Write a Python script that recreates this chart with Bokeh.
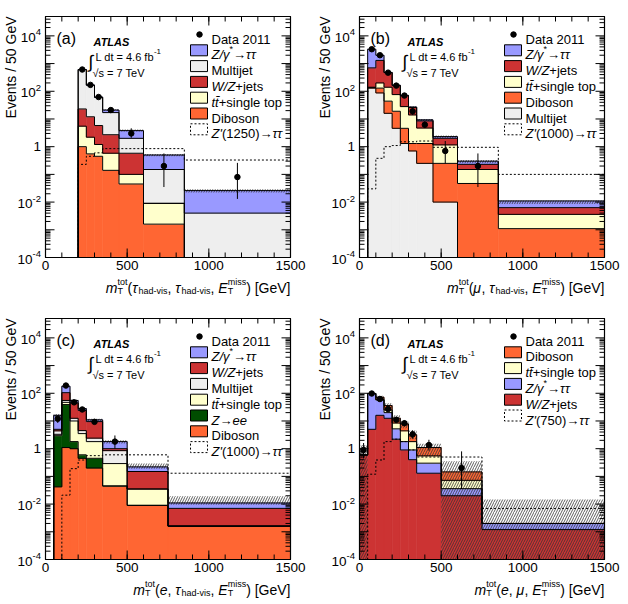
import math
import numpy as np
from bokeh.plotting import figure
from bokeh.models import Label, Range1d
from bokeh.layouts import gridplot
from bokeh.embed import file_html
from bokeh.resources import INLINE

# ---------------- data (events / 50 GeV) ----------------
# (a) tau_had tau_had
a_edges = [200, 250, 300, 350, 450, 600, 850, 1500]
a_diboson = [1.0, 0.55, 0.45, 0.14, 0.045, 0.0016, 0.0]
a_ttbar = [4.5, 1.65, 0.75, 0.44, 0.055, 0.0074, 0.0]
a_wzjets = [17.5, 9.8, 4.6, 2.12, 0.48, 0.0, 0.0]
a_multijet = [582, 153, 54, 14.3, 1.42, 0.141, 0.004]
a_ztautau = [5, 3, 2, 4, 1.8, 0.35, 0.022]
a_zprime = [0.23, 0.45, 0.6, 0.85, 0.85, 0.85, 0.33]
a_data = [610, 170, 62, 21, 3.0, 0.2, 0.08]
a_data_lo = [585, 158, 55, 18, 2.1, 0.035, 0.013]
a_data_hi = [635, 182, 69, 24, 4.6, 0.57, 0.26]
a_band_lo = [590, 160, 58, 19.5, 3.5, 0.45, 0.022]
a_band_hi = [630, 176, 66, 22.5, 4.2, 0.55, 0.029]

# (b) mu tau_had
b_edges = [50, 100, 150, 200, 250, 300, 350, 450, 600, 850, 1500]
b_multijet = [130, 87, 16, 4.6, 1.3, 0.7, 0.25, 0.01, 0.0, 0.0]
b_diboson = [5, 43, 28, 14.4, 3.3, 0.6, 1.05, 0.24, 0.047, 0.0011]
b_ttbar = [5, 70, 96, 57, 23.4, 12.7, 3.4, 0.91, 0.103, 0.0025]
b_wzjets = [560, 1100, 330, 84, 41, 12, 3.8, 0.85, 0.08, 0.0027]
b_ztautau = [2600, 700, 10, 5, 2, 1, 0.8, 0.3, 0.07, 0.0047]
b_zprime = [0.03, 0.38, 1.0, 1.1, 1.5, 1.5, 1.6, 0.95, 0.95, 0.1]
b_data = [3300, 2000, 470, 160, 70, 19, 6.2, 0.7, 0.2]
b_data_lo = [3200, 1920, 440, 148, 62, 14, 4.7, 0.25, 0.035]
b_data_hi = [3400, 2080, 500, 172, 78, 25, 8.3, 1.6, 0.57]
b_band_lo = [3150, 1900, 450, 155, 67, 25, 8.5, 2.05, 0.25, 0.0085]
b_band_hi = [3450, 2100, 500, 175, 75, 29, 10, 2.55, 0.33, 0.0115]

# (c) e tau_had
c_edges = [50, 100, 150, 200, 250, 350, 500, 750, 1500]
c_diboson = [0.042, 1.1, 1.0, 0.45, 0.2, 0.045, 0.009, 0.0016]
c_zee = [2.9, 38, 0.8, 0.15, 0.25, 0.0, 0.0, 0.0]
c_ttbar = [0.36, 7.9, 8.2, 2.9, 1.35, 0.245, 0.026, 0.0]
c_multijet = [1.1, 8, 2.5, 1.0, 0.6, 0.56, 0.0, 0.0]
c_wzjets = [0.6, 50, 32.5, 19.5, 7.1, 0.15, 0.115, 0.0054]
c_ztautau = [11, 75, 10, 4, 1.5, 0.8, 0.07, 0.004]
c_zprime = [0.0, 0.021, 0.19, 0.39, 0.56, 0.6, 0.6, 0.13]
c_data = [12, 190, 47, 26, 9.3, 1.8]
c_data_lo = [8.5, 175, 41, 22, 7.7, 1.0]
c_data_hi = [16, 205, 54, 30, 11, 3.0]
c_band_lo = [14, 170, 51, 26, 10, 1.55, 0.19, 0.0095]
c_band_hi = [18, 190, 59, 30, 12, 2.0, 0.29, 0.019]

# (d) e mu
d_edges = [0, 50, 100, 150, 200, 250, 300, 350, 500, 750, 1500]
d_wzjets = [0.59, 5, 16, 12.5, 2.2, 0.9, 0.4, 0.13, 0.02, 0.0012]
d_ztautau = [0.0, 93, 41, 7.5, 3.0, 0.9, 0.5, 0.17, 0.016, 0.0008]
d_ttbar = [0.0, 0.0, 3, 5, 3.2, 2.6, 0.9, 0.25, 0.036, 0.0]
d_diboson = [0.0, 0.0, 12, 11, 4.2, 3.4, 1.4, 0.55, 0.073, 0.0]
d_zprime = [0.0, 0.12, 0.39, 1.8, 2.2, 1.8, 0.9, 0.5, 0.5, 0.007]
d_data = [0.9, 98, 62, 27, 11, 8.3, 3.3, 1.35, 0.2]
d_data_lo = [0.45, 92, 57, 23, 9, 6.5, 2.3, 0.85, 0.035]
d_data_hi = [1.6, 104, 68, 32, 14, 10.5, 4.6, 2.1, 0.8]
d_band_lo = [0.0, 90, 60, 28, 9, 5.5, 2.2, 0.55, 0.0, 0.0]
d_band_hi = [1.35, 106, 82, 44, 16, 10, 4.5, 1.5, 0.35, 0.0145]

# axis ticks
x_major = [0, 500, 1000, 1500]
x_minor = list(range(100, 1500, 100))
y_major_exp = [-4, -3, -2, -1, 0, 1, 2, 3, 4]
y_label_exp = [-4, -2, 0, 2, 4]

# ---------------- style / geometry ----------------
FONT = "Liberation Sans"
C_ZTT = "#9999ff"
C_MJ = "#eeeeee"
C_WZ = "#cc3333"
C_TT = "#ffffcc"
C_DB = "#ff6633"
C_ZEE = "#004d00"
YMIN, YMAX = 1e-4, 5e4
XMIN, XMAX = 0.0, 1500.0
PW, PH = 314, 302                     # panel size
FL, FT, FR, FB = 45, 16, 290, 257     # drawn frame box inside the panel (pixels)
LOGSPAN = math.log10(YMAX) - math.log10(YMIN)
LPP = LOGSPAN / (FB - FT)             # decades per pixel
XPP = (XMAX - XMIN) / (FR - FL)       # GeV per pixel

W = {' ': .278, '(': .333, ')': .333, ',': .278, '-': .333, '[': .278, ']': .278, '/': .278,
     '.': .278, '=': .584, '+': .584, "'": .191, '*': .389, '\u0304': 0.0,
     'a': .556, 'b': .556, 'c': .5, 'd': .556, 'e': .556, 'f': .278, 'g': .556, 'h': .556,
     'i': .222, 'j': .222, 'k': .5, 'l': .222, 'm': .833, 'n': .556, 'o': .556, 'p': .556,
     'r': .333, 's': .5, 't': .278, 'u': .556, 'v': .5, 'w': .722, 'x': .5, 'y': .5, 'z': .5,
     'A': .667, 'D': .722, 'E': .667, 'G': .778, 'L': .556, 'M': .833, 'S': .667, 'T': .611,
     'V': .667, 'W': .944, 'Z': .611, 'τ': .45, 'μ': .577, 'γ': .5, '→': 1.0}


def tw(s, size):
    return sum(W.get(ch, 0.556) for ch in s) * size


STY = {"": "normal", "i": "italic", "b": "bold", "bi": "bold italic"}


def add_text(p, t, X, Y, size, style="normal", align="left", baseline="alphabetic", angle=0.0):
    # X, Y: panel pixels (Y downward); frame spans the whole panel
    p.add_layout(Label(x=X, y=PH - Y, x_units="screen", y_units="screen", text=t,
                       text_font=FONT, text_font_size=f"{size}px", text_font_style=style,
                       text_align=align, text_baseline=baseline, angle=angle,
                       text_color="black"))


def pw(pc, size, ss):
    t, role, st = pc
    if role == "n":
        return tw(t, size)
    if role in ("sub", "sup"):
        return tw(t, ss)
    a, b = t.split("|")
    return max(tw(a, ss), tw(b, ss))


def rich(p, pieces, X, Y, size, ss, align="left"):
    total = sum(pw(pc, size, ss) for pc in pieces)
    x = X - total if align == "right" else X
    for pc in pieces:
        t, role, st = pc
        s = STY[st]
        if role == "n":
            add_text(p, t, x, Y, size, s)
        elif role == "sub":
            add_text(p, t, x, Y + 0.28 * size, ss, s)
        elif role == "sup":
            add_text(p, t, x, Y - 0.42 * size, ss, s)
        else:
            a, b = t.split("|")
            add_text(p, a, x, Y + 0.28 * size, ss, s)
            add_text(p, b, x, Y - 0.42 * size, ss, s)
        x += pw(pc, size, ss)


def to_data(X, Y):
    xd = XMIN + (X - FL) * XPP
    ly = math.log10(YMIN) + (FB - Y) * LPP
    return xd, 10 ** ly


def steps(e, v):
    xs, ys = [e[0]], [YMIN]
    for i in range(len(v)):
        xs += [e[i], e[i + 1]]
        ys += [max(v[i], YMIN)] * 2
    xs.append(e[-1])
    ys.append(YMIN)
    return xs, ys


def make_panel():
    x0 = XMIN - FL * XPP
    x1 = XMAX + (PW - FR) * XPP
    y0 = 10 ** (math.log10(YMIN) - (PH - FB) * LPP)
    y1 = 10 ** (math.log10(YMAX) + FT * LPP)
    p = figure(width=PW, height=PH, x_range=Range1d(x0, x1), y_range=Range1d(y0, y1),
               y_axis_type="log", x_axis_location=None, y_axis_location=None,
               output_backend="svg", toolbar_location=None,
               min_border_left=0, min_border_right=0, min_border_top=0, min_border_bottom=0)
    p.grid.visible = False
    p.outline_line_color = None
    p.background_fill_color = "white"
    p.border_fill_color = "white"
    return p


def draw_axes(p):
    # frame
    p.quad(left=[XMIN], right=[XMAX], bottom=[YMIN], top=[YMAX], fill_alpha=0,
           line_color="black", line_width=1.2)
    ymaj = [10.0 ** k for k in y_major_exp]
    ymin_t = [m * 10.0 ** k for k in y_major_exp for m in range(2, 10)
              if m * 10.0 ** k <= YMAX]
    for ticks, ln in ((x_major, 9), (x_minor, 5)):
        n = len(ticks)
        f = 10 ** (ln * LPP)
        p.segment(x0=ticks, y0=[YMIN] * n, x1=ticks, y1=[YMIN * f] * n, color="black")
        p.segment(x0=ticks, y0=[YMAX] * n, x1=ticks, y1=[YMAX / f] * n, color="black")
    for ticks, ln in ((ymaj, 9), (ymin_t, 5)):
        n = len(ticks)
        d = ln * XPP
        p.segment(x0=[XMIN] * n, y0=ticks, x1=[XMIN + d] * n, y1=ticks, color="black")
        p.segment(x0=[XMAX] * n, y0=ticks, x1=[XMAX - d] * n, y1=ticks, color="black")
    for t in x_major:
        p.add_layout(Label(x=t, y=YMIN, y_offset=-3, text=str(t), text_font=FONT,
                           text_font_size="13.5px", text_align="center",
                           text_baseline="top", text_color="black"))
    for k in y_label_exp:
        if k == 0:
            p.add_layout(Label(x=XMIN, y=1.0, x_offset=-4.5, text="1", text_font=FONT,
                               text_font_size="13.5px", text_align="right",
                               text_baseline="middle", text_color="black"))
            continue
        sup = str(k)
        wsup = tw(sup, 9.5)
        p.add_layout(Label(x=XMIN, y=10.0 ** k, x_offset=-4.5 - wsup, y_offset=-1.5,
                           text="10", text_font=FONT, text_font_size="13.5px",
                           text_align="right", text_baseline="middle", text_color="black"))
        p.add_layout(Label(x=XMIN, y=10.0 ** k, x_offset=-4.5 - wsup, y_offset=3.5,
                           text=sup, text_font=FONT, text_font_size="9.5px",
                           text_align="left", text_baseline="middle", text_color="black"))


def draw_hist(p, edges, comps, zprime, data, dlo, dhi, blo, bhi):
    e = np.array(edges, float)
    L, R = e[:-1], e[1:]
    ctr = (L + R) / 2
    prev = np.zeros(len(L))
    cums = []
    for vals, color in comps:
        cur = prev + np.array(vals, float)
        p.quad(left=L, right=R, bottom=np.maximum(prev, YMIN), top=np.maximum(cur, YMIN),
               fill_color=color, line_color=color, line_width=0.6)
        cums.append(cur)
        prev = cur
    p.quad(left=L, right=R, bottom=np.maximum(np.array(blo, float), YMIN),
           top=np.array(bhi, float), fill_alpha=0, line_color=None,
           hatch_pattern="/", hatch_color="#333333", hatch_scale=5, hatch_weight=0.8)
    for cur in cums:
        xs, ys = steps(e, cur)
        p.line(xs, ys, color="black", line_width=1)
    xs, ys = steps(e, zprime)
    p.line(xs, ys, color="black", line_width=1, line_dash="2 2")
    n = len(data)
    p.segment(x0=ctr[:n], y0=dlo, x1=ctr[:n], y1=dhi, color="black", line_width=1)
    p.scatter(ctr[:n], data, size=5.5, color="black")


def decorate(p, letter, entries, xlabel):
    add_text(p, f"({letter})", 56, 38, 16)
    add_text(p, "ATLAS", 93, 41, 11, "bold italic")
    add_text(p, "\u222b", 88, 61, 18)
    rich(p, [("L dt = 4.6 fb", "n", ""), ("-1", "sup", "")], 95, 56, 11, 8)
    add_text(p, "\u221as = 7 TeV", 92, 72, 11)
    add_text(p, "Events / 50 GeV", 10, 16, 14, angle=math.pi / 2, align="right",
             baseline="middle")
    rich(p, xlabel, FR, 287, 14, 9, align="right")
    # legend
    y0 = 34.0
    xd, yd = to_data(199, y0)
    p.scatter([xd], [yd], size=5.5, color="black")
    add_text(p, "Data 2011", 211, y0 + 4.5, 13)
    for i, (pieces, color, dotted) in enumerate(entries):
        yc = y0 + 15.8 * (i + 1)
        xa, y_top = to_data(190, yc - 5.5)
        xb, y_bot = to_data(207, yc + 5.5)
        p.quad(left=[xa], right=[xb], bottom=[y_bot], top=[y_top], fill_color=color,
               line_color="black", line_width=1,
               line_dash="2 2" if dotted else "solid")
        rich(p, pieces, 211, yc + 4.5, 13, 9)


ZTT = [("Z/\u03b3", "n", "i"), ("*", "sup", ""), ("\u2192", "n", ""), ("\u03c4\u03c4", "n", "i")]
MJ = [("Multijet", "n", "")]
WZ = [("W/Z", "n", "i"), ("+jets", "n", "")]
TT = [("tt\u0304", "n", "i"), ("+single top", "n", "")]
DB = [("Diboson", "n", "")]
ZEE = [("Z", "n", "i"), ("\u2192", "n", ""), ("ee", "n", "i")]


def ZP(m):
    return [("Z'", "n", "i"), (f"({m})\u2192", "n", ""), ("\u03c4\u03c4", "n", "i")]


HV = ("had-vis", "sub", "")
MT = [("m", "n", "i"), ("T|tot", "ss", ""), ("(", "n", "")]
MET = [("E", "n", "i"), ("T|miss", "ss", ""), (") [GeV]", "n", "")]
TAU = ("\u03c4", "n", "i")
COMMA = (", ", "n", "")

# ---- panel a
pa = make_panel()
draw_hist(pa, a_edges, [(a_diboson, C_DB), (a_ttbar, C_TT), (a_wzjets, C_WZ),
                        (a_multijet, C_MJ), (a_ztautau, C_ZTT)],
          a_zprime, a_data, a_data_lo, a_data_hi, a_band_lo, a_band_hi)
draw_axes(pa)
decorate(pa, "a", [(ZTT, C_ZTT, False), (MJ, C_MJ, False), (WZ, C_WZ, False),
                   (TT, C_TT, False), (DB, C_DB, False), (ZP(1250), "white", True)],
         MT + [TAU, HV, COMMA, TAU, HV, COMMA] + MET)

# ---- panel b
pb = make_panel()
draw_hist(pb, b_edges, [(b_multijet, C_MJ), (b_diboson, C_DB), (b_ttbar, C_TT),
                        (b_wzjets, C_WZ), (b_ztautau, C_ZTT)],
          b_zprime, b_data, b_data_lo, b_data_hi, b_band_lo, b_band_hi)
draw_axes(pb)
decorate(pb, "b", [(ZTT, C_ZTT, False), (WZ, C_WZ, False), (TT, C_TT, False),
                   (DB, C_DB, False), (MJ, C_MJ, False), (ZP(1000), "white", True)],
         MT + [("\u03bc", "n", "i"), COMMA, TAU, HV, COMMA] + MET)

# ---- panel c
pc = make_panel()
draw_hist(pc, c_edges, [(c_diboson, C_DB), (c_zee, C_ZEE), (c_ttbar, C_TT),
                        (c_multijet, C_MJ), (c_wzjets, C_WZ), (c_ztautau, C_ZTT)],
          c_zprime, c_data, c_data_lo, c_data_hi, c_band_lo, c_band_hi)
draw_axes(pc)
decorate(pc, "c", [(ZTT, C_ZTT, False), (WZ, C_WZ, False), (MJ, C_MJ, False),
                   (TT, C_TT, False), (ZEE, C_ZEE, False), (DB, C_DB, False),
                   (ZP(1000), "white", True)],
         MT + [("e", "n", "i"), COMMA, TAU, HV, COMMA] + MET)

# ---- panel d
pd_ = make_panel()
draw_hist(pd_, d_edges, [(d_wzjets, C_WZ), (d_ztautau, C_ZTT), (d_ttbar, C_TT),
                         (d_diboson, C_DB)],
          d_zprime, d_data, d_data_lo, d_data_hi, d_band_lo, d_band_hi)
draw_axes(pd_)
decorate(pd_, "d", [(DB, C_DB, False), (TT, C_TT, False), (ZTT, C_ZTT, False),
                    (WZ, C_WZ, False), (ZP(750), "white", True)],
         MT + [("e", "n", "i"), COMMA, ("\u03bc", "n", "i"), COMMA] + MET)

grid = gridplot([[pa, pb], [pc, pd_]], toolbar_location=None)
open("out.html", "w").write(file_html(grid, INLINE))
